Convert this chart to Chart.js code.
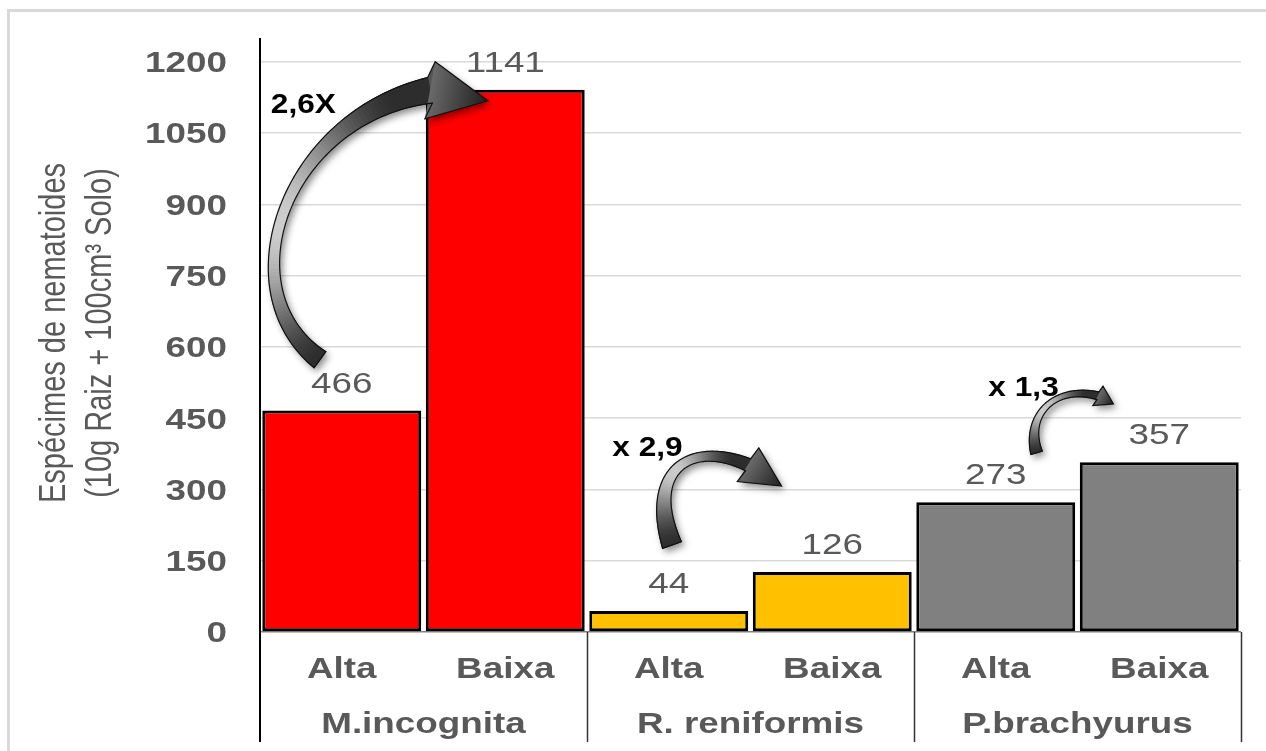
<!DOCTYPE html>
<html>
<head>
<meta charset="utf-8">
<script src="https://cdn.jsdelivr.net/npm/chart.js@4"></script>
<style>
  html, body { margin: 0; padding: 0; background: #fff; }
  #wrap { width: 1266px; height: 751px; position: relative; }
</style>
</head>
<body>
<div id="wrap"><canvas id="bar-chart"></canvas></div>
<script>
// data
const conditions = ['Alta', 'Baixa', 'Alta', 'Baixa', 'Alta', 'Baixa'];
const species = ['M.incognita', 'R. reniformis', 'P.brachyurus'];
const counts = [466, 1141, 44, 126, 273, 357];
const barColors = ['#ff0000', '#ff0000', '#ffc000', '#ffc000', '#808080', '#808080'];
const factors = ['2,6X', 'x 2,9', 'x 1,3'];
const yTitle = ['Espécimes de nematoides', '(10g Raiz + 100cm³ Solo)'];
const yMax = 1250, yStep = 150;

// arrow annotations, in (category index, value) units
const arrowAnno = [
  { p: [[-0.133, 573], [-0.714, 720], [-0.35, 1083], [0.54, 1140]], tip: [0.894, 1118], w: [20, 11, 26], hw: 58, text: [-0.235, 1113] },
  { p: [[2.02, 183], [1.855, 341], [2.13, 404], [2.485, 352]], tip: [2.69, 307], w: [20, 10, 13], hw: 40, text: [1.87, 391] },
  { p: [[4.25, 377], [4.18, 457], [4.36, 520], [4.625, 497]], tip: [4.72, 480], w: [12, 6, 8], hw: 22, text: [4.17, 518] }
];

const SX = 1.27; // the source picture is stretched sideways
const GRAY = '#595959';

function sText(ctx, s, x, y, font, color, align, sx) {
  ctx.save();
  ctx.translate(x, y);
  ctx.scale(sx || SX, 1);
  ctx.font = font;
  ctx.fillStyle = color;
  ctx.textAlign = align;
  ctx.textBaseline = 'alphabetic';
  ctx.fillText(s, 0, 0);
  ctx.restore();
}

function cub(a, b, c, d, t) { const u = 1 - t; return u*u*u*a + 3*u*u*t*b + 3*u*t*t*c + t*t*t*d; }
function dcub(a, b, c, d, t) { const u = 1 - t; return 3*u*u*(b-a) + 6*u*t*(c-b) + 3*t*t*(d-c); }

function drawArrow(ctx, P, tip, ws, hw) {
  const N = 90, L = [], R = [], T = [];
  const wc = 2 * ws[1] - 0.5 * (ws[0] + ws[2]);
  let nEnd = null;
  for (let i = 0; i <= N; i++) {
    const t = i / N, u = 1 - t;
    const x = cub(P[0][0], P[1][0], P[2][0], P[3][0], t);
    const y = cub(P[0][1], P[1][1], P[2][1], P[3][1], t);
    const dx = dcub(P[0][0], P[1][0], P[2][0], P[3][0], t);
    const dy = dcub(P[0][1], P[1][1], P[2][1], P[3][1], t);
    const len = Math.hypot(dx, dy) || 1;
    const nx = -dy / len, ny = dx / len;
    const w = ws[0]*u*u + 2*wc*t*u + ws[2]*t*t;
    L.push([x + nx*w/2, y + ny*w/2]);
    R.push([x - nx*w/2, y - ny*w/2]);
    T.push(t);
    nEnd = [nx, ny];
  }
  const e = P[3];
  let dx = tip[0] - e[0], dy = tip[1] - e[1];
  const dl = Math.hypot(dx, dy); dx /= dl; dy /= dl;
  let hn = [-dy, dx];
  if (hn[0]*nEnd[0] + hn[1]*nEnd[1] < 0) hn = [dy, -dx];
  const HL = [e[0] + hn[0]*hw/2, e[1] + hn[1]*hw/2];
  const HR = [e[0] - hn[0]*hw/2, e[1] - hn[1]*hw/2];

  const outline = () => {
    ctx.beginPath();
    ctx.moveTo(L[0][0], L[0][1]);
    for (let i = 1; i <= N; i++) ctx.lineTo(L[i][0], L[i][1]);
    ctx.lineTo(HL[0], HL[1]);
    ctx.lineTo(tip[0], tip[1]);
    ctx.lineTo(HR[0], HR[1]);
    for (let i = N; i >= 0; i--) ctx.lineTo(R[i][0], R[i][1]);
    ctx.closePath();
  };

  // shadow
  ctx.save();
  ctx.shadowColor = 'rgba(0,0,0,0.45)';
  ctx.shadowBlur = 7;
  ctx.shadowOffsetX = 3;
  ctx.shadowOffsetY = 4;
  outline();
  ctx.fillStyle = '#555';
  ctx.fill();
  ctx.restore();

  // body shading
  for (let i = 0; i < N; i++) {
    const t = T[i];
    const v = Math.round(45 + 160 * Math.pow(Math.sin(Math.PI * Math.min(1, t * 1.1)), 1.5));
    const c = 'rgb(' + v + ',' + v + ',' + v + ')';
    ctx.beginPath();
    ctx.moveTo(L[i][0], L[i][1]);
    ctx.lineTo(L[i+1][0], L[i+1][1]);
    ctx.lineTo(R[i+1][0], R[i+1][1]);
    ctx.lineTo(R[i][0], R[i][1]);
    ctx.closePath();
    ctx.fillStyle = c; ctx.strokeStyle = c; ctx.lineWidth = 1;
    ctx.fill(); ctx.stroke();
  }
  // head
  const g = ctx.createLinearGradient(e[0], e[1], tip[0], tip[1]);
  g.addColorStop(0, '#6a6a6a');
  g.addColorStop(1, '#1e1e1e');
  ctx.beginPath();
  ctx.moveTo(HL[0], HL[1]); ctx.lineTo(tip[0], tip[1]); ctx.lineTo(HR[0], HR[1]); ctx.closePath();
  ctx.fillStyle = g; ctx.fill();

  outline();
  ctx.strokeStyle = '#111';
  ctx.lineWidth = 1.2;
  ctx.stroke();
}

const decor = {
  id: 'decor',
  beforeDraw(chart) {
    const ctx = chart.ctx;
    ctx.save();
    ctx.strokeStyle = '#d9d9d9';
    ctx.lineWidth = 3;
    ctx.strokeRect(8.5, 10.5, 1300, 800);
    ctx.restore();
  },
  afterDraw(chart) {
    const ctx = chart.ctx, x = chart.scales.x, y = chart.scales.y, a = chart.chartArea;
    const px = (i, v) => [x.getPixelForValue(i), y.getPixelForValue(v)];

    // y tick labels
    y.ticks.forEach(t => {
      sText(ctx, String(t.value), a.left - 33, y.getPixelForValue(t.value) + 10.4, 'bold 29px "Liberation Sans", Arial, sans-serif', GRAY, 'right');
    });

    // y title, two lines, rotated
    [65, 111].forEach((bx, k) => {
      ctx.save();
      ctx.translate(bx, (a.top + a.bottom) / 2 - 2);
      ctx.rotate(-Math.PI / 2);
      ctx.scale(1, SX);
      ctx.font = '29px "Liberation Sans", Arial, sans-serif';
      ctx.fillStyle = GRAY;
      ctx.textAlign = 'center';
      ctx.textBaseline = 'alphabetic';
      ctx.fillText(yTitle[k], 0, 0);
      ctx.restore();
    });

    // x labels: condition row and species row
    conditions.forEach((c, i) => {
      sText(ctx, c, x.getPixelForValue(i), a.bottom + 46, 'bold 29px "Liberation Sans", Arial, sans-serif', GRAY, 'center');
    });
    species.forEach((s, k) => {
      sText(ctx, s, x.getPixelForValue(2*k + 0.5), a.bottom + 101, 'bold 29px "Liberation Sans", Arial, sans-serif', GRAY, 'center');
    });

    // separators
    ctx.save();
    ctx.strokeStyle = '#333';
    ctx.lineWidth = 1.5;
    for (let k = 1; k <= species.length; k++) {
      const sx = Math.round(x.getPixelForValue(2*k - 0.5)) + 0.5;
      ctx.beginPath(); ctx.moveTo(sx, a.bottom); ctx.lineTo(sx, a.bottom + 110); ctx.stroke();
    }
    ctx.strokeStyle = '#000';
    ctx.lineWidth = 2;
    ctx.beginPath(); ctx.moveTo(a.left, a.top); ctx.lineTo(a.left, a.bottom + 110); ctx.stroke();
    ctx.restore();

    // value labels
    const meta = chart.getDatasetMeta(0);
    meta.data.forEach((bar, i) => {
      sText(ctx, String(counts[i]), bar.x, bar.y - 18, '29px "Liberation Sans", Arial, sans-serif', GRAY, 'center');
    });

    // arrows and factors
    arrowAnno.forEach((an, k) => {
      drawArrow(ctx, an.p.map(q => px(q[0], q[1])), px(an.tip[0], an.tip[1]), an.w, an.hw);
      const tp = px(an.text[0], an.text[1]);
      sText(ctx, factors[k], tp[0], tp[1] + 10, 'bold 28px "Liberation Sans", Arial, sans-serif', '#000', 'center', 1.13);
    });
  }
};

new Chart(document.getElementById('bar-chart'), {
  type: 'bar',
  data: {
    labels: conditions,
    datasets: [{
      data: counts,
      backgroundColor: barColors,
      borderColor: '#000',
      borderWidth: 3,
      borderSkipped: false,
      barPercentage: 0.972,
      categoryPercentage: 1
    }]
  },
  options: {
    responsive: true,
    maintainAspectRatio: false,
    animation: false,
    layout: { padding: { top: 38, right: 25, left: 0, bottom: 0 } },
    plugins: { legend: { display: false }, tooltip: { enabled: false }, title: { display: false } },
    scales: {
      x: {
        grid: { display: false },
        border: { display: false },
        ticks: { display: false },
        afterFit: s => { s.height = 119; }
      },
      y: {
        min: 0,
        max: yMax,
        ticks: { display: false, stepSize: yStep },
        afterBuildTicks: s => { s.ticks = s.ticks.filter(t => t.value % yStep === 0); },
        grid: {
          color: c => c.tick && c.tick.value === 0 ? '#7f7f7f' : '#d9d9d9',
          lineWidth: 1.5,
          drawTicks: false
        },
        border: { display: false },
        afterFit: s => { s.width = 260; }
      }
    }
  },
  plugins: [decor]
});
</script>
</body>
</html>
